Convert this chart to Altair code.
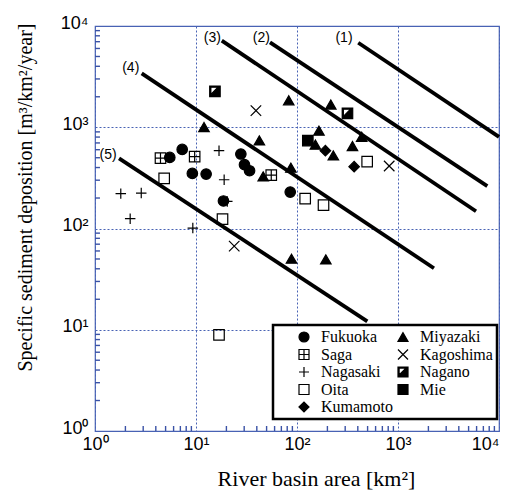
import altair as alt
import pandas as pd

# ---- data ----
pref_order = ["Fukuoka", "Saga", "Nagasaki", "Oita", "Kumamoto",
              "Miyazaki", "Kagoshima", "Nagano", "Mie"]

fukuoka_area = [5.5, 7.3, 9.2, 12.6, 27.8, 30.2, 33.9, 18.7, 85.7]
fukuoka_dep = [504, 604, 350, 345, 544, 427, 372, 187, 229]

saga_area = [4.45, 9.7, 55.6]
saga_dep = [496, 512, 337]

nagasaki_area = [16.9, 19.0, 1.80, 2.87, 2.23, 9.3, 20.4]
nagasaki_dep = [587, 303, 221, 224, 125, 101, 185]

oita_area = [4.84, 18.3, 120.5, 183, 495, 16.9]
oita_dep = [313, 124, 197, 170, 457, 8.9]

kumamoto_area = [191, 368]
kumamoto_dep = [587, 408]

miyazaki_area = [12.0, 82.8, 216, 165, 42.4, 152, 229, 354, 437, 87, 46.3, 88.2, 193]
miyazaki_dep = [1004, 1845, 1676, 925, 742, 674, 527, 652, 805, 399, 327, 50.3, 49.5]

kagoshima_area = [39.2, 818, 23.9]
kagoshima_dep = [1459, 414, 67]

nagano_area = [15.4, 316]
nagano_dep = [2263, 1372]

mie_area = [128]
mie_dep = [738]

line_ids = ["(1)", "(2)", "(3)", "(4)", "(5)"]
line_x0 = [404, 54, 18, 2.9, 1.73]
line_y0 = [6839, 6900, 7160, 3400, 493]
line_x1 = [10000, 7660, 5920, 2270, 497]
line_y1 = [802, 262, 148, 40.5, 12.1]

label_x = [292, 44.3, 14.5, 2.26, 1.35]
label_y = [7550, 7550, 7550, 3810, 528]

decades = [1, 10, 100, 1000, 10000]
minor = [m * d for d in [1, 10, 100, 1000] for m in range(2, 10)]

# ---- tables ----
series = {
    "Fukuoka": (fukuoka_area, fukuoka_dep),
    "Saga": (saga_area, saga_dep),
    "Nagasaki": (nagasaki_area, nagasaki_dep),
    "Oita": (oita_area, oita_dep),
    "Kumamoto": (kumamoto_area, kumamoto_dep),
    "Miyazaki": (miyazaki_area, miyazaki_dep),
    "Kagoshima": (kagoshima_area, kagoshima_dep),
    "Nagano": (nagano_area, nagano_dep),
    "Mie": (mie_area, mie_dep),
}
rows = []
for name, (xs, ys) in series.items():
    for a, d in zip(xs, ys):
        rows.append({"pref": name, "area": a, "dep": d})
pts = pd.DataFrame(rows)

lrows = []
for i, lid in enumerate(line_ids):
    lrows.append({"line": lid, "area": line_x0[i], "dep": line_y0[i]})
    lrows.append({"line": lid, "area": line_x1[i], "dep": line_y1[i]})
lines_df = pd.DataFrame(lrows)

labels_df = pd.DataFrame({"line": line_ids, "area": label_x, "dep": label_y})
# minor ticks run from the frame edge (1) a short way into the plot (1.12)
minor_df = pd.DataFrame({"v": minor, "lo": [1] * len(minor), "hi": [1.12] * len(minor)})

# ---- styles ----
shape_map = {
    "Fukuoka": "circle",
    "Saga": "M-1,-1H1V1H-1Z M0,-1V1 M-1,0H1",
    "Nagasaki": "M-1,0H1M0,-1V1",
    "Oita": "square",
    "Kumamoto": "diamond",
    "Miyazaki": "triangle-up",
    "Kagoshima": "M-1,-1L1,1M-1,1L1,-1",
    "Nagano": "M-1,-1H1V1H-1Z M-0.78,-0.78V0.58L0.58,-0.78Z",
    "Mie": "square",
}
fill_map = {
    "Fukuoka": "black", "Saga": "transparent", "Nagasaki": "transparent",
    "Oita": "transparent", "Kumamoto": "black", "Miyazaki": "black",
    "Kagoshima": "transparent", "Nagano": "black", "Mie": "black",
}
shape_range = [shape_map[p] for p in pref_order]
fill_range = [fill_map[p] for p in pref_order]
stroke_range = ["black"] * len(pref_order)

grid_color = "#4862b4"
tick_color = "#3a52a6"
label_expr = ("datum.value == 1 ? '10⁰' : datum.value == 10 ? '10¹' : "
              "datum.value == 100 ? '10²' : datum.value == 1000 ? '10³' : '10⁴'")

xscale = alt.Scale(type="log", domain=[1, 10000], nice=False)
yscale = alt.Scale(type="log", domain=[1, 10000], nice=False)

xaxis = alt.Axis(values=decades, labelExpr=label_expr, orient="bottom",
                 grid=True, gridDash=[2, 2], gridColor=grid_color, gridWidth=1,
                 ticks=False, domain=False, labelFont="Liberation Sans",
                 labelFontSize=18, labelColor="black", labelPadding=4,
                 labelFlush=False, labelOverlap=False,
                 labelAlign={"condition": {"test": "datum.value >= 10000", "value": "right"},
                             "value": "center"},
                 title="River basin area [km²]", titleFont="Liberation Serif",
                 titleFontSize=22, titleFontWeight="normal", titleColor="black",
                 titleX=221, titleY=37, titleAlign="center",
                 titleBaseline="top")
yaxis = alt.Axis(values=decades, labelExpr=label_expr, orient="left",
                 grid=True, gridDash=[2, 2], gridColor=grid_color, gridWidth=1,
                 ticks=False, domain=False, labelFont="Liberation Sans",
                 labelFontSize=18, labelColor="black", labelPadding=7,
                 labelFlush=False, labelOverlap=False, labelBaseline="middle",
                 labelOffset=-3,
                 title="Specific sediment deposition [m³/km²/year]",
                 titleFont="Liberation Serif", titleFontSize=20,
                 titleFontWeight="normal", titleColor="black",
                 titleX=-70, titleY=171, titleAngle=270, titleAlign="center",
                 titleBaseline="middle")

legend = alt.Legend(title=" ", titleOrient="left", titlePadding=19,
                    orient="none", legendX=178, legendY=299, columns=2,
                    columnPadding=2, rowPadding=1.5, padding=4,
                    strokeColor="black", fillColor="white",
                    labelFont="Liberation Serif", labelFontSize=16,
                    labelColor="black", labelOffset=9, symbolSize=100,
                    symbolStrokeWidth=1.2)

X = alt.X("area:Q", scale=xscale, axis=xaxis)
Y = alt.Y("dep:Q", scale=yscale, axis=yaxis)

lines = alt.Chart(lines_df).mark_line(color="black", strokeWidth=3.8).encode(
    x=X, y=Y, detail="line:N")

points = alt.Chart(pts).mark_point(filled=True, opacity=1, size=110,
                                   strokeWidth=1.2).encode(
    x=X, y=Y,
    shape=alt.Shape("pref:N", scale=alt.Scale(domain=pref_order, range=shape_range), legend=legend),
    fill=alt.Fill("pref:N", scale=alt.Scale(domain=pref_order, range=fill_range), legend=legend),
    stroke=alt.Stroke("pref:N", scale=alt.Scale(domain=pref_order, range=stroke_range), legend=legend),
)

texts = alt.Chart(labels_df).mark_text(font="Liberation Sans", fontSize=14,
                                       color="black", align="center",
                                       baseline="middle").encode(
    x=X, y=Y, text="line:N")

# inward minor ticks along bottom and left frame
xticks = alt.Chart(minor_df).mark_rule(color=tick_color, strokeWidth=1.4,
                                       opacity=1).encode(
    x=alt.X("v:Q", scale=xscale, axis=xaxis),
    y=alt.Y("lo:Q", scale=yscale, axis=yaxis),
    y2="hi:Q")
yticks = alt.Chart(minor_df).mark_rule(color=tick_color, strokeWidth=1.4,
                                       opacity=1).encode(
    y=alt.Y("v:Q", scale=yscale, axis=yaxis),
    x=alt.X("lo:Q", scale=xscale, axis=xaxis),
    x2="hi:Q")

chart = alt.layer(lines, points, texts, xticks, yticks).properties(
    width=404, height=405,
    autosize=alt.AutoSizeParams(type="none"),
    padding={"left": 87, "top": 18, "right": 7, "bottom": 61},
    background="white",
).configure_view(stroke=grid_color, strokeWidth=1.2).configure_legend(
    strokeWidth=2.5)

chart.save("out.html", embed_options={"renderer": "svg", "actions": False})
